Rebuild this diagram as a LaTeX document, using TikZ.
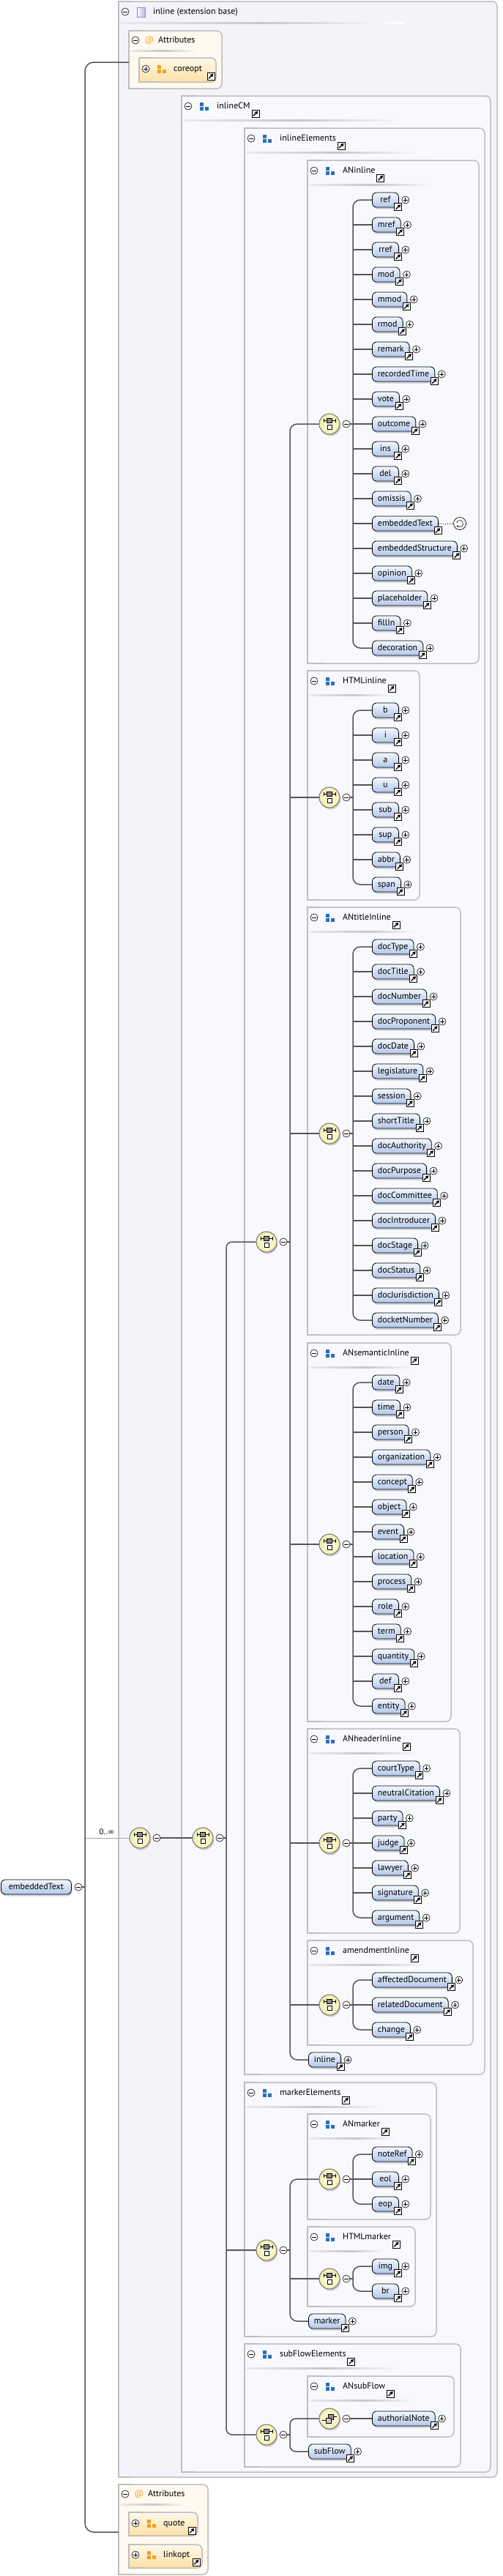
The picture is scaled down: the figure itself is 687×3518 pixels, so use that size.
\documentclass[tikz,border=0pt]{standalone}
\usepackage{fontspec}
\setmainfont{PT Sans}
\newfontfamily\symfont{DejaVu Sans}
\usetikzlibrary{calc,shadows,arrows.meta}
\definecolor{grpBlue}{HTML}{2A6EBB}
\definecolor{attrOrange}{HTML}{F0A020}
\definecolor{elemTop}{HTML}{F3F7FE}
\definecolor{elemBot}{HTML}{B3C7EA}
\definecolor{compIn}{HTML}{FFFEE8}
\definecolor{compOut}{HTML}{F4EDB0}
\definecolor{outerFill}{HTML}{F5F3FA}
\definecolor{grpFill}{HTML}{F8F9FD}
\definecolor{attrFill}{HTML}{FFF9EF}
\definecolor{agTop}{HTML}{FFF8EA}
\definecolor{agBot}{HTML}{FDE1A6}
\definecolor{boxLine}{HTML}{BEBEBE}
\definecolor{connGray}{HTML}{555555}
\definecolor{iconPurple}{HTML}{9A7FD0}

\tikzset{
  pics/lnk/.style={code={
    \draw[black,fill=white,line width=0.7pt] (-5pt,-5pt) rectangle (5pt,5pt);
    \draw[black,line width=1.3pt,-{Triangle[length=4pt,width=4.6pt]}] (-3pt,-3.2pt) -- (3.4pt,3.2pt);}},
  pics/grpic/.style={code={
    \fill[#1] (-6pt,0.5pt) rectangle (-1pt,5.5pt);
    \fill[#1] (-6pt,-0.5pt) rectangle (-1pt,-5.5pt);
    \fill[#1] (1pt,-0.5pt) rectangle (6pt,-5.5pt);}},
  pics/chg/.style={code={
    \draw[line width=0.8pt] (-8pt,4.7pt) -- (8pt,4.7pt) (-8pt,2.5pt) -- (-8pt,6.9pt) (8pt,2.5pt) -- (8pt,6.9pt);
    \draw[line width=0.8pt,fill=black!45] (-3.2pt,2pt) rectangle (3.2pt,7.4pt);
    \draw[line width=0.8pt,fill=white] (-3pt,-7.4pt) rectangle (3pt,-1.4pt);}},
  pics/allg/.style={code={
    \draw[line width=0.8pt] (-10pt,-2pt) -- (-5pt,-2pt) (5pt,3pt) -- (10pt,3pt);
    \draw[line width=0.8pt,fill=black!40] (-2pt,-1pt) rectangle (5pt,6pt);
    \draw[line width=0.8pt,fill=black!20] (-5pt,-6pt) rectangle (2pt,1pt);}}
}

% box with square left and rounded right corners
\newcommand\boxshape[5][]{%
  \path[#1] (#2,#3) rectangle ({#2+20},#5);
  \path[#1,rounded corners=7pt] ({#2+10},#3) rectangle (#4,#5);
  \draw[boxline] ({#2+20},#3) -- (#2,#3) -- (#2,#5) -- ({#2+20},#5);
  \draw[boxline,rounded corners=7pt] ({#2+20},#3) -- (#4,#3) -- (#4,#5) -- ({#2+20},#5);}
% title row of a group box
\newcommand\grptitle[5]{%
  \shade[sepline] ({#2+2},{#3+32}) rectangle (#5,{#3+34});
  \node[minus] (mg#1) at ({#2+9},{#3+14}) {};
  \pic at ({#2+31},{#3+14}) {grpic=grpBlue};
  \node[ttl] (t#1) at ({#2+48},{#3+14}) {#4};
  \pic at ($(t#1.east)+(7pt,-10pt)$) {lnk};}
\newcommand\linkbox[1]{\pic at ($(#1.south east)+(-1pt,1pt)$) {lnk};}
\newcommand\plusbtn[1]{\node[plus] (p#1) at ($(#1.east)+(9pt,0)$) {};}

\begin{document}
\begin{tikzpicture}[x=1pt,y=-1pt,
  lbl/.style={font=\fontsize{12}{14}\selectfont},
  elem/.style={lbl,draw=black,line width=0.8pt,rounded corners=6pt,top color=elemTop,bottom color=elemBot,
    minimum height=20pt,minimum width=36pt,inner xsep=7.5pt,inner ysep=0pt,text height=9pt,text depth=2.5pt,
    anchor=west,drop shadow={shadow xshift=1.2pt,shadow yshift=-2.5pt,opacity=0.35}},
  comp/.style={circle,draw=black!60,line width=0.9pt,inner color=compIn,outer color=compOut,
    minimum size=28pt,inner sep=0pt,drop shadow={shadow xshift=1.5pt,shadow yshift=-2.5pt,opacity=0.35}},
  minus/.style={circle,draw=black,fill=white,line width=0.6pt,minimum size=10pt,inner sep=0pt,
    path picture={\draw[line width=0.7pt] ($(path picture bounding box.center)+(-2.8pt,0)$) -- ($(path picture bounding box.center)+(2.8pt,0)$);}},
  plus/.style={circle,draw=black,fill=white,line width=0.6pt,minimum size=10pt,inner sep=0pt,
    path picture={\draw[line width=0.7pt] ($(path picture bounding box.center)+(-2.8pt,0)$) -- ($(path picture bounding box.center)+(2.8pt,0)$)
      ($(path picture bounding box.center)+(0,-2.8pt)$) -- ($(path picture bounding box.center)+(0,2.8pt)$);}},
  conn/.style={draw=connGray,line width=1.5pt},
  optline/.style={draw=black!35,line width=1pt},
  boxline/.style={draw=boxLine,line width=1.5pt},
  sepline/.style={left color=black!8,right color=white,middle color=black!22},
  ttl/.style={lbl,anchor=west,inner sep=0pt,text height=9pt,text depth=2.5pt}]
\useasboundingbox (0,0) rectangle (687,3518);

% outer complex type
\boxshape[fill=outerFill]{162}{2}{679}{3383}
\shade[sepline] (164,30) rectangle (551,32);
\node[minus] (mgOuter) at (171,16) {};
\shadedraw[left color=white,right color=iconPurple!60,draw=iconPurple,line width=0.8pt] (187,10) rectangle (198,23);
\node[ttl] (tOuter) at (209,16) {inline (extension base)};

% attributes (top)
\boxshape[fill=attrFill]{176}{42}{303}{121}
\shade[sepline] (178,68) rectangle (271,70);
\node[minus] (mgAttrTop) at (185,55) {};
\node[lbl,text=attrOrange,inner sep=0pt] (atAttrTop) at (204,55) {@};
\node[ttl] (tAttrTop) at (216,55) {Attributes};
\boxshape[top color=agTop,bottom color=agBot]{190}{79}{295}{112}
\node[plus] (pcoreopt) at (199,94) {};
\pic at (221,94) {grpic=attrOrange};
\node[ttl] (tcoreopt) at (237,94) {coreopt};
\pic at (288,104) {lnk};
\coordinate (attrTop) at (176,85);

% groups
\boxshape[fill=grpFill]{248}{131}{670}{3376}
\grptitle{inlineCM}{248}{131}{inlineCM}{564}
\boxshape[fill=grpFill]{334}{175}{662}{2833}
\grptitle{inlineElements}{334}{175}{inlineElements}{582}
\boxshape[fill=grpFill]{420}{219}{654}{906}
\grptitle{ANinline}{420}{219}{ANinline}{598}
\boxshape[fill=grpFill]{420}{916}{573}{1229}
\grptitle{HTMLinline}{420}{916}{HTMLinline}{540}
\boxshape[fill=grpFill]{420}{1239}{629}{1823}
\grptitle{ANtitleInline}{420}{1239}{ANtitleInline}{578}
\boxshape[fill=grpFill]{420}{1834}{616}{2351}
\grptitle{ANsemanticInline}{420}{1834}{ANsemanticInline}{573}
\boxshape[fill=grpFill]{420}{2361}{628}{2640}
\grptitle{ANheaderInline}{420}{2361}{ANheaderInline}{578}
\boxshape[fill=grpFill]{420}{2650}{646}{2793}
\grptitle{amendmentInline}{420}{2650}{amendmentInline}{591}
\boxshape[fill=grpFill]{334}{2844}{596}{3191}
\grptitle{markerElements}{334}{2844}{markerElements}{533}
\boxshape[fill=grpFill]{420}{2887}{588}{3031}
\grptitle{ANmarker}{420}{2887}{ANmarker}{547}
\boxshape[fill=grpFill]{420}{3041}{567}{3150}
\grptitle{HTMLmarker}{420}{3041}{HTMLmarker}{533}
\boxshape[fill=grpFill]{334}{3201}{629}{3369}
\grptitle{subFlowElements}{334}{3201}{subFlowElements}{556}
\boxshape[fill=grpFill]{420}{3245}{620}{3328}
\grptitle{ANsubFlow}{420}{3245}{ANsubFlow}{573}

% attributes (bottom)
\boxshape[fill=attrFill]{162}{3393}{284}{3516}
\shade[sepline] (164,3419) rectangle (256,3421);
\node[minus] (mgAttrBot) at (171,3406) {};
\node[lbl,text=attrOrange,inner sep=0pt] (atAttrBot) at (190,3406) {@};
\node[ttl] (tAttrBot) at (202,3406) {Attributes};
\boxshape[top color=agTop,bottom color=agBot]{176}{3431}{270}{3463}
\node[plus] (pquote) at (185,3446) {};
\pic at (207,3446) {grpic=attrOrange};
\node[ttl] (tquote) at (223,3446) {quote};
\pic at (262,3456) {lnk};
\boxshape[top color=agTop,bottom color=agBot]{176}{3475}{276}{3507}
\node[plus] (plinkopt) at (185,3489) {};
\pic at (207,3489) {grpic=attrOrange};
\node[ttl] (tlinkopt) at (223,3489) {linkopt};
\pic at (268,3499) {lnk};
\coordinate (attrBot) at (162,3458);

% compositors
\foreach \cn/\x/\y in {RootA/191/2510,RootB/277/2510,InlineEl/364/1696,MarkerEl/364/3073,SubFlowEl/364/3325,
    ANinline/450/579,HTMLinline/450/1089,ANtitle/450/1548,ANsem/450/2109,ANheader/450/2517,Amend/450/2738,
    ANmarker/450/2976,HTMLmarker/450/3112,ANsubFlow/450/3303}{
  \node[comp] (c\cn) at (\x,\y) {};
  \node[minus] (mc\cn) at (\x+23,\y) {};
  \coordinate (s\cn) at (\x+32,\y);
}
\foreach \cn in {RootA,RootB,InlineEl,MarkerEl,SubFlowEl,ANinline,HTMLinline,ANtitle,ANsem,ANheader,Amend,ANmarker,HTMLmarker}
  \pic at (c\cn) {chg};
\pic at (cANsubFlow) {allg};

% root element
\node[elem,minimum width=96pt] (embeddedText) at (1,2577) {embeddedText};
\node[minus] (mroot) at (107,2577) {};
\coordinate (sRoot) at (116,2577);
\node[lbl,font=\fontsize{11}{13}\selectfont] (occ) at (146,2502) {0..{\symfont ∞}};

% ANinline
\foreach \n [count=\i from 0] in {ref,mref,rref,mod,mmod,rmod,remark,recordedTime,vote,outcome,ins,del,omissis,
    embeddedText,embeddedStructure,opinion,placeholder,fillIn,decoration}{
  \node[elem] (e\n) at (508,273+34*\i) {\n};
  \linkbox{e\n}
  \ifnum\i=13 \else\plusbtn{e\n}\fi
  \ifnum\i>0 \ifnum\i<18 \draw[conn] (e\n.west) -- (e\n.west -| sANinline);\fi\fi
}
\node[circle,draw,line width=0.7pt,fill=white,minimum size=17pt,inner sep=0pt] (recET) at (628,715) {};
\draw[line width=0.6pt,-{Stealth[length=2.5pt,width=2.5pt]}] ($(recET.center)+(-4.44pt,1.19pt)$) arc[start angle=165,end angle=-150,radius=4.6pt];
\draw[dotted,line width=1pt] (eembeddedText.east) -- (recET.west);
\draw[conn,rounded corners=10pt] (eref.west) -| (sANinline) |- (edecoration.west);
\draw[conn] (mcANinline.east) -- (sANinline);

% HTMLinline
\foreach \n [count=\i from 0] in {b,i,a,u,sub,sup,abbr,span}{
  \node[elem] (e\n) at (508,970+34*\i) {\n};
  \linkbox{e\n}
  \plusbtn{e\n}
  \ifnum\i>0 \ifnum\i<7 \draw[conn] (e\n.west) -- (e\n.west -| sHTMLinline);\fi\fi
}
\draw[conn,rounded corners=10pt] (eb.west) -| (sHTMLinline) |- (espan.west);
\draw[conn] (mcHTMLinline.east) -- (sHTMLinline);

% ANtitleInline
\foreach \n [count=\i from 0] in {docType,docTitle,docNumber,docProponent,docDate,legislature,session,shortTitle,
    docAuthority,docPurpose,docCommittee,docIntroducer,docStage,docStatus,docJurisdiction,docketNumber}{
  \node[elem] (e\n) at (508,1293+34*\i) {\n};
  \linkbox{e\n}
  \plusbtn{e\n}
  \ifnum\i>0 \ifnum\i<15 \draw[conn] (e\n.west) -- (e\n.west -| sANtitle);\fi\fi
}
\draw[conn,rounded corners=10pt] (edocType.west) -| (sANtitle) |- (edocketNumber.west);
\draw[conn] (mcANtitle.east) -- (sANtitle);

% ANsemanticInline
\foreach \n [count=\i from 0] in {date,time,person,organization,concept,object,event,location,process,role,term,
    quantity,def,entity}{
  \node[elem] (e\n) at (508,1888+34*\i) {\n};
  \linkbox{e\n}
  \plusbtn{e\n}
  \ifnum\i>0 \ifnum\i<13 \draw[conn] (e\n.west) -- (e\n.west -| sANsem);\fi\fi
}
\draw[conn,rounded corners=10pt] (edate.west) -| (sANsem) |- (eentity.west);
\draw[conn] (mcANsem.east) -- (sANsem);

% ANheaderInline
\foreach \n [count=\i from 0] in {courtType,neutralCitation,party,judge,lawyer,signature,argument}{
  \node[elem] (e\n) at (508,2415+34*\i) {\n};
  \linkbox{e\n}
  \plusbtn{e\n}
  \ifnum\i>0 \ifnum\i<6 \draw[conn] (e\n.west) -- (e\n.west -| sANheader);\fi\fi
}
\draw[conn,rounded corners=10pt] (ecourtType.west) -| (sANheader) |- (eargument.west);
\draw[conn] (mcANheader.east) -- (sANheader);

% amendmentInline
\foreach \n [count=\i from 0] in {affectedDocument,relatedDocument,change}{
  \node[elem] (e\n) at (508,2704+34*\i) {\n};
  \linkbox{e\n}
  \plusbtn{e\n}
}
\draw[conn,rounded corners=10pt] (eaffectedDocument.west) -| (sAmend) |- (echange.west);
\draw[conn] (mcAmend.east) -- (erelatedDocument.west);

% inline element
\node[elem] (einline) at (421,2813) {inline};
\linkbox{einline}
\plusbtn{einline}
\draw[conn,rounded corners=10pt] (cANinline.west) -| (sInlineEl) |- (einline.west);
\draw[conn] (mcInlineEl.east) -- (sInlineEl);
\foreach \cn in {cHTMLinline,cANtitle,cANsem,cANheader,cAmend}
  \draw[conn] (\cn.west) -- (\cn.west -| sInlineEl);

% ANmarker, HTMLmarker, marker
\foreach \n [count=\i from 0] in {noteRef,eol,eop}{
  \node[elem] (e\n) at (508,2942+34*\i) {\n};
  \linkbox{e\n}
  \plusbtn{e\n}
}
\draw[conn,rounded corners=10pt] (enoteRef.west) -| (sANmarker) |- (eeop.west);
\draw[conn] (mcANmarker.east) -- (eeol.west);
\foreach \n [count=\i from 0] in {img,br}{
  \node[elem] (e\n) at (508,3095+34*\i) {\n};
  \linkbox{e\n}
  \plusbtn{e\n}
}
\draw[conn,rounded corners=10pt] (eimg.west) -| (sHTMLmarker) |- (ebr.west);
\draw[conn] (mcHTMLmarker.east) -- (sHTMLmarker);
\node[elem] (emarker) at (421,3170) {marker};
\linkbox{emarker}
\plusbtn{emarker}
\draw[conn,rounded corners=10pt] (cANmarker.west) -| (sMarkerEl) |- (emarker.west);
\draw[conn] (mcMarkerEl.east) -- (sMarkerEl);
\draw[conn] (cHTMLmarker.west) -- (cHTMLmarker.west -| sMarkerEl);

% ANsubFlow, subFlow
\node[elem] (eauthorialNote) at (508,3303) {authorialNote};
\linkbox{eauthorialNote}
\plusbtn{eauthorialNote}
\draw[conn] (mcANsubFlow.east) -- (eauthorialNote.west);
\node[elem] (esubFlow) at (421,3348) {subFlow};
\linkbox{esubFlow}
\plusbtn{esubFlow}
\draw[conn,rounded corners=8pt] (cANsubFlow.west) -| (sSubFlowEl) |- (esubFlow.west);
\draw[conn] (mcSubFlowEl.east) -- (sSubFlowEl);

% top levels
\draw[conn,rounded corners=8pt] (cInlineEl.west) -| (sRootB) |- (cSubFlowEl.west);
\draw[conn] (mcRootB.east) -- (sRootB);
\draw[conn] (cMarkerEl.west) -- (cMarkerEl.west -| sRootB);
\draw[conn] (mcRootA.east) -- (cRootB.west);
\draw[optline] (sRoot |- cRootA) -- (cRootA.west);
\draw[conn,rounded corners=12pt] (attrTop) -| (sRoot) |- (attrBot);
\draw[conn] (mroot.east) -- (sRoot);
\end{tikzpicture}
\end{document}
